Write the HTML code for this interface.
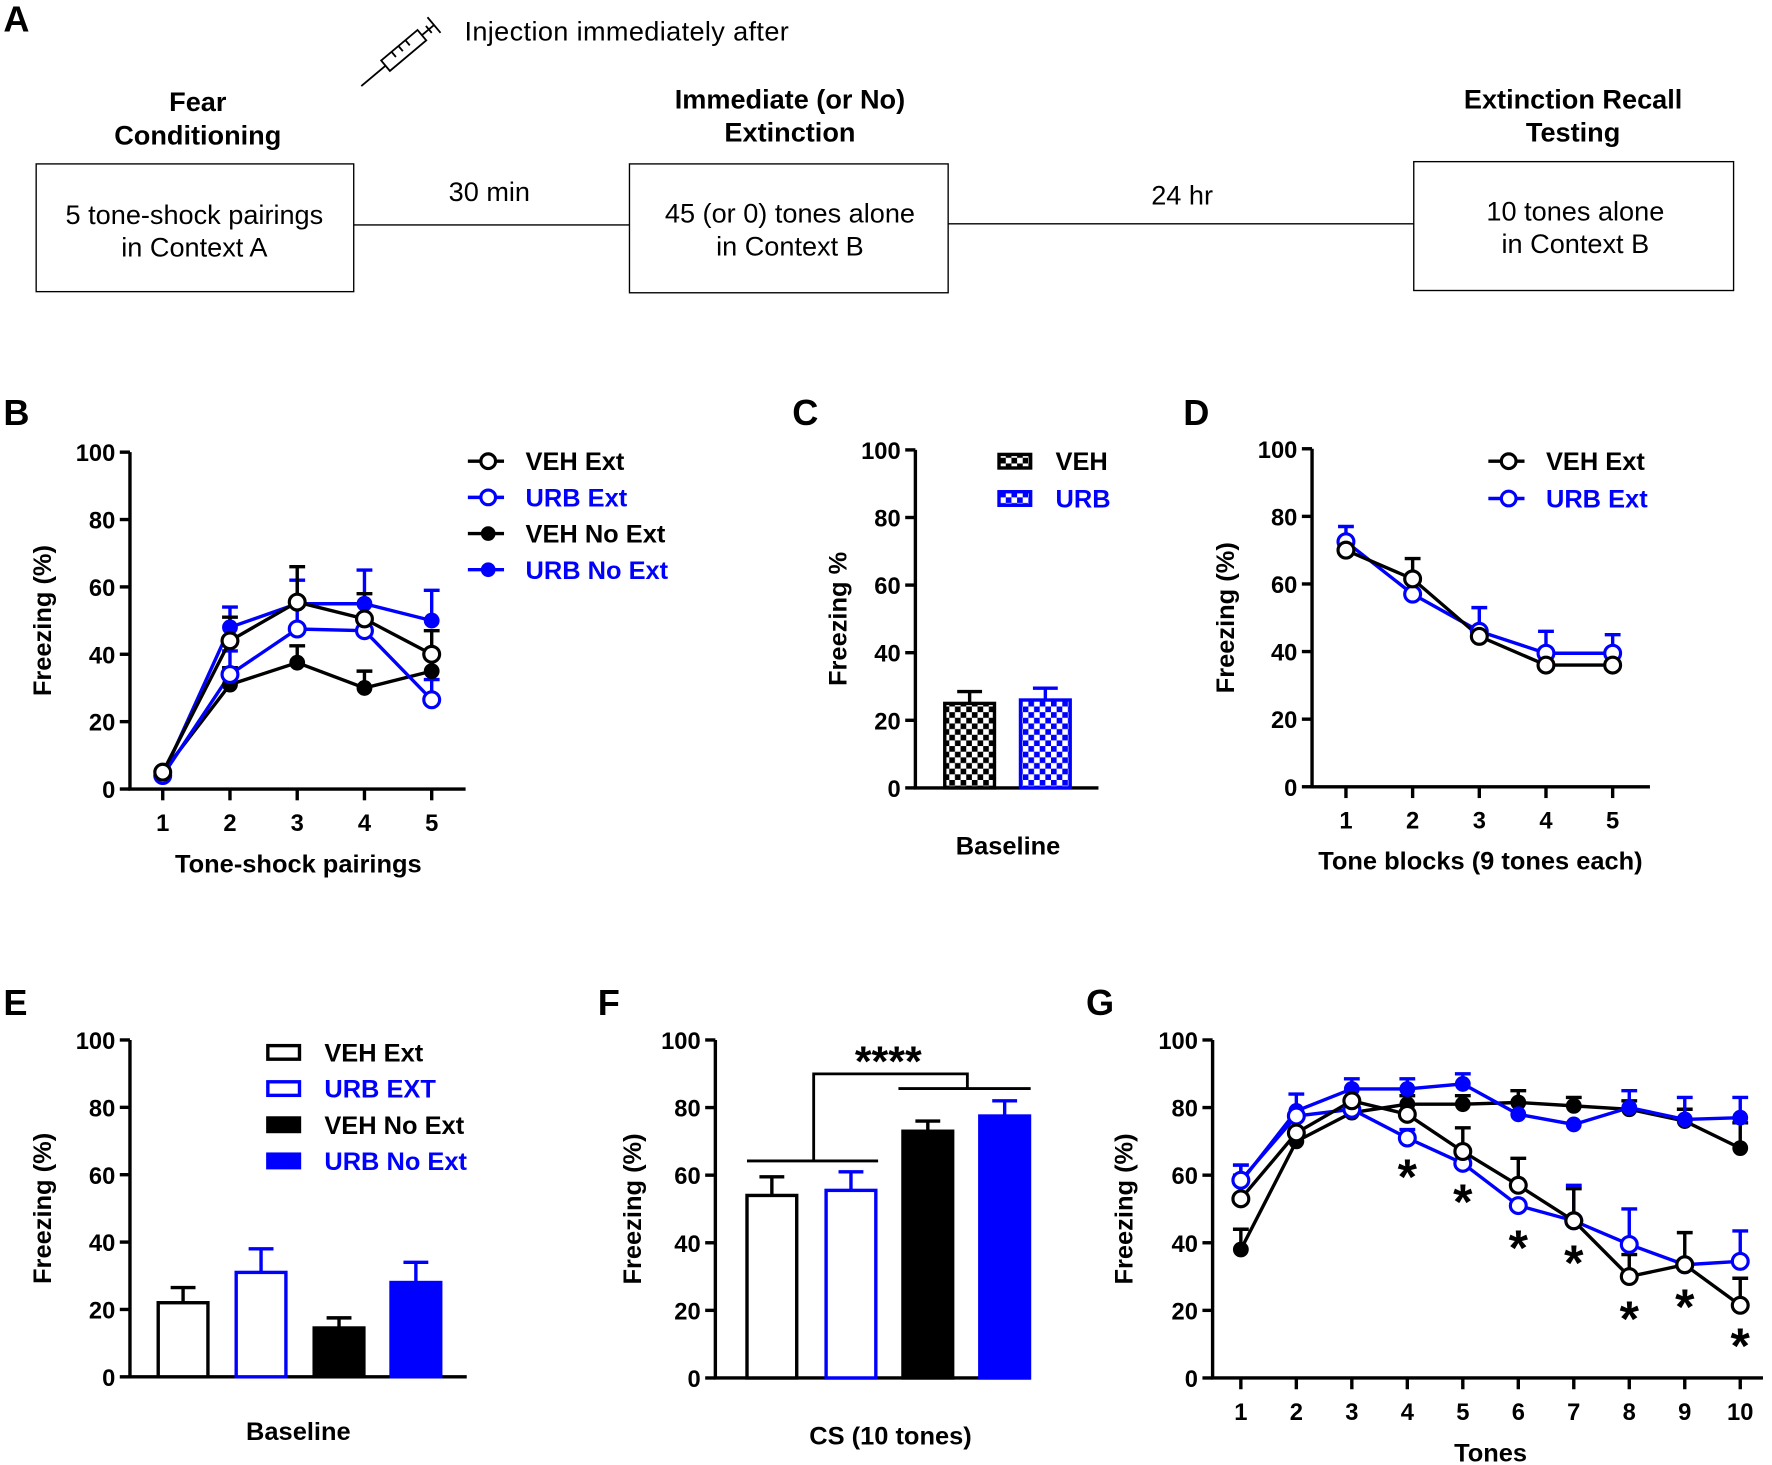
<!DOCTYPE html>
<html><head><meta charset="utf-8">
<style>
html,body{margin:0;padding:0;background:#fff;}
svg{display:block;font-family:"Liberation Sans",Arial,sans-serif;}
.tk{font-size:21px;font-weight:bold;}
.at{font-size:22.5px;font-weight:bold;}
.pl{font-size:32px;font-weight:bold;}
.sch{font-size:24px;}
.schb{font-size:24px;font-weight:bold;}
</style></head>
<body>
<svg id="fig" width="1772" height="1465" viewBox="0 0 1568 1296" preserveAspectRatio="none" xmlns="http://www.w3.org/2000/svg">
<defs>
<pattern id="chkK" width="10" height="10" patternUnits="userSpaceOnUse"><rect width="10" height="10" fill="#fff"/><rect width="5" height="5" fill="#000"/><rect x="5" y="5" width="5" height="5" fill="#000"/></pattern>
<pattern id="chkB" width="10" height="10" patternUnits="userSpaceOnUse"><rect width="10" height="10" fill="#fff"/><rect width="5" height="5" fill="#0000ff"/><rect x="5" y="5" width="5" height="5" fill="#0000ff"/></pattern>
</defs>
<g>
<text x="3" y="28" class="pl">A</text>
<g transform="translate(358,44) rotate(-40)" fill="none" stroke="#000" stroke-width="1.6">
<rect x="-22" y="-6" width="42" height="12"/>
<line x1="-22" y1="0" x2="-50" y2="0"/>
<line x1="20" y1="0" x2="34" y2="0"/><line x1="34" y1="-9" x2="34" y2="9"/>
<line x1="-10" y1="-6" x2="-10" y2="0"/><line x1="-2" y1="-6" x2="-2" y2="0"/><line x1="6" y1="-6" x2="6" y2="0"/>
<line x1="28" y1="-4" x2="28" y2="4"/>
</g>
<text x="411" y="36" class="sch" textLength="287">Injection immediately after</text>
<text x="175" y="98" class="schb" text-anchor="middle">Fear</text>
<text x="175" y="128" class="schb" text-anchor="middle">Conditioning</text>
<rect x="32" y="145" width="281" height="113" fill="none" stroke="#000" stroke-width="1.2"/>
<text x="172" y="198" class="sch" text-anchor="middle">5 tone-shock pairings</text>
<text x="172" y="227" class="sch" text-anchor="middle">in Context A</text>
<line x1="313" y1="199" x2="557" y2="199" stroke="#000" stroke-width="1.2"/>
<text x="433" y="178" class="sch" text-anchor="middle">30 min</text>
<text x="699" y="96" class="schb" text-anchor="middle">Immediate (or No)</text>
<text x="699" y="125" class="schb" text-anchor="middle">Extinction</text>
<rect x="557" y="145" width="282" height="114" fill="none" stroke="#000" stroke-width="1.2"/>
<text x="699" y="197" class="sch" text-anchor="middle">45 (or 0) tones alone</text>
<text x="699" y="226" class="sch" text-anchor="middle">in Context B</text>
<line x1="839" y1="198" x2="1251" y2="198" stroke="#000" stroke-width="1.2"/>
<text x="1046" y="181" class="sch" text-anchor="middle">24 hr</text>
<text x="1392" y="96" class="schb" text-anchor="middle">Extinction Recall</text>
<text x="1392" y="125" class="schb" text-anchor="middle">Testing</text>
<rect x="1251" y="143" width="283" height="114" fill="none" stroke="#000" stroke-width="1.2"/>
<text x="1394" y="195" class="sch" text-anchor="middle">10 tones alone</text>
<text x="1394" y="224" class="sch" text-anchor="middle">in Context B</text>
</g>
</svg>
<script>
// ---------- data ----------
const yTicks = [0, 20, 40, 60, 80, 100];
// Panel B
const bCats = ["1","2","3","4","5"];
const bVehExt = [5, 44, 55.5, 50.5, 40];
const bVehExtErr = [5, 51, 66, 58, 47];
const bUrbExt = [4, 34, 47.5, 47, 26.5];
const bUrbExtErr = [4, 41, 62, 47, 32.5];
const bVehNo = [5, 31, 37.5, 30, 35];
const bVehNoErr = [5, 36, 42.5, 35, 35];
const bUrbNo = [4, 48, 55, 55, 50];
const bUrbNoErr = [4, 54, 55, 65, 59];
// Panel C
const cCats = ["VEH", "URB"];
const cVals = [25, 26];
const cErr = [28.5, 29.5];
// Panel D
const dCats = ["1","2","3","4","5"];
const dVehExt = [70, 61.5, 44.5, 36, 36];
const dVehExtErr = [70, 67.5, 47, 36, 36];
const dUrbExt = [72.5, 57, 46, 39.5, 39.5];
const dUrbExtErr = [77, 57, 53, 46, 45];
// Panel E
const eCats = ["VEH Ext", "URB EXT", "VEH No Ext", "URB No Ext"];
const eVals = [22, 31, 14.5, 28];
const eErr = [26.5, 38, 17.5, 34];
// Panel F
const fCats = ["VEH Ext", "URB EXT", "VEH No Ext", "URB No Ext"];
const fVals = [54, 55.5, 73, 77.5];
const fErr = [59.5, 61, 76, 82];
// Panel G
const gCats = ["1","2","3","4","5","6","7","8","9","10"];
const gVehExt = [53, 72.5, 82, 78, 67, 57, 46.5, 30, 33.5, 21.5];
const gVehExtErr = [60, 72.5, 82, 78, 74, 65, 56, 36.5, 43, 29.5];
const gUrbExt = [58.5, 77.5, 79.5, 71, 63.5, 51, 46.5, 39.5, 33.5, 34.5];
const gUrbExtErr = [63, 77.5, 79.5, 73.5, 63.5, 51, 57, 50, 33.5, 43.5];
const gVehNo = [38, 70, 78.5, 81, 81, 81.5, 80.5, 79.5, 76, 68];
const gVehNoErr = [44, 70, 78.5, 83.5, 83.5, 85, 83, 82, 79.5, 75.5];
const gUrbNo = [58, 79, 85.5, 85.5, 87, 78, 75, 80, 76.5, 77];
const gUrbNoErr = [63, 84, 88.5, 88.5, 90, 78, 75, 85, 83, 83];
const gStarTones = [4, 5, 6, 7, 8, 9, 10];
const gStarY = [62.5, 55, 41.5, 37, 20.5, 24, 12.5];

// ---------- helpers ----------
const NS = "http://www.w3.org/2000/svg";
const svg = document.getElementById("fig");
function el(tag, attrs, parent) {
  const e = document.createElementNS(NS, tag);
  for (const k in attrs) e.setAttribute(k, attrs[k]);
  (parent || svg).appendChild(e);
  return e;
}
function txt(s, attrs, parent) { const t = el("text", attrs, parent); t.textContent = s; return t; }
const BLUE = "#0000ff", BLACK = "#000";

function axes(g, ax) {
  const ys = v => ax.yb - v * (ax.yb - ax.yt) / 100;
  const yl = el("line", {x1: ax.x, y1: ax.yt, x2: ax.x, y2: ax.yb, stroke: BLACK, "stroke-width": 3}, g);
  
  
  const xl = el("line", {x1: ax.x - 1.5, y1: ax.yb, x2: ax.xe, y2: ax.yb, stroke: BLACK, "stroke-width": 3}, g);
  
  
  yTicks.forEach(v => {
    const tl = el("line", {x1: ax.x - 9, y1: ys(v), x2: ax.x, y2: ys(v), stroke: BLACK, "stroke-width": 3}, g);
    
    
    const tt = txt(String(v), {x: ax.x - 13, y: ys(v) + 8, "text-anchor": "end", class: "tk"}, g);
    
    
  });
  const yt = txt(ax.ylabel, {x: 0, y: 0, "text-anchor": "middle", class: "at", transform: `translate(${ax.ylx},${(ax.yt + ax.yb) / 2}) rotate(-90)`}, g);
  
  
  const xt = txt(ax.xlabel, {x: ax.xlx, y: ax.xly, "text-anchor": "middle", class: "at"}, g);
  
  
  const pl = txt(ax.letter, {x: ax.lx, y: ax.ly, class: "pl"}, g);
  
  
  return ys;
}

function lineChart(g, ax, cats, x0, step, series) {
  const ys = axes(g, ax);
  const xs = i => x0 + i * step;
  cats.forEach((c, i) => {
    const tl = el("line", {x1: xs(i), y1: ax.yb, x2: xs(i), y2: ax.yb + 10, stroke: BLACK, "stroke-width": 3}, g);
    
    
    const tt = txt(c, {x: xs(i), y: ax.yb + 37, "text-anchor": "middle", class: "tk"}, g);
    
    
  });
  series.forEach(s => {
    s.vals.forEach((v, i) => {
      if (s.err[i] > v + 0.5) {
        const e1 = el("path", {d: `M${xs(i)},${ys(v)}V${ys(s.err[i])}M${xs(i) - 7},${ys(s.err[i])}H${xs(i) + 7}`, stroke: s.color, "stroke-width": 3, fill: "none"}, g);
        
        
      }
    });
  });
  series.forEach(s => {
    const pl = el("polyline", {points: s.vals.map((v, i) => xs(i) + "," + ys(v)).join(" "), fill: "none", stroke: s.color, "stroke-width": 3}, g);
    
    
  });
  series.forEach(s => {
    s.vals.forEach((v, i) => {
      const m = el("circle", {cx: xs(i), cy: ys(v), r: s.open ? 7 : 6.5, fill: s.open ? "#fff" : s.color, stroke: s.color, "stroke-width": s.open ? 2.8 : 1}, g);
      
      
    });
  });
  return {xs, ys};
}

function legendLine(g, x, y, s) {
  const l = el("line", {x1: x - 18, y1: y, x2: x + 14, y2: y, stroke: s.color, "stroke-width": 3}, g);
  
  
  const c = el("circle", {cx: x, cy: y, r: s.open ? 6.5 : 6, fill: s.open ? "#fff" : s.color, stroke: s.color, "stroke-width": s.open ? 2.8 : 1}, g);
  
  
  const t = txt(s.label, {x: x + 33, y: y + 8, class: "at", fill: s.color}, g);
  
  
}

function barChart(g, ax, vals, errs, lefts, w, fills, strokes) {
  const ys = axes(g, ax);
  vals.forEach((v, i) => {
    const e1 = el("path", {d: `M${lefts[i] + w / 2},${ys(v)}V${ys(errs[i])}M${lefts[i] + w / 2 - 11},${ys(errs[i])}H${lefts[i] + w / 2 + 11}`, stroke: strokes[i], "stroke-width": 3, fill: "none"}, g);
    
    
    const r = el("rect", {x: lefts[i], y: ys(v), width: w, height: ys(0) - ys(v), fill: fills[i], stroke: strokes[i], "stroke-width": 3}, g);
    
    
  });
  return ys;
}

function swatch(g, x, y, fill, stroke, label, color) {
  const r = el("rect", {x: x, y: y - 6, width: 28, height: 12, fill: fill, stroke: stroke, "stroke-width": 3}, g);
  
  
  const t = txt(label, {x: x + 50, y: y + 8, class: "at", fill: color}, g);
  
  
}

// ---------- Panel B ----------
const gB = el("g", {});


const sB = [
  {name: "veh-ext", label: "VEH Ext", vals: bVehExt, err: bVehExtErr, color: BLACK, open: true},
  {name: "urb-ext", label: "URB Ext", vals: bUrbExt, err: bUrbExtErr, color: BLUE, open: true},
  {name: "veh-no-ext", label: "VEH No Ext", vals: bVehNo, err: bVehNoErr, color: BLACK, open: false},
  {name: "urb-no-ext", label: "URB No Ext", vals: bUrbNo, err: bUrbNoErr, color: BLUE, open: false}
];
lineChart(gB, {x: 115, xe: 412, yt: 400, yb: 698, ylabel: "Freezing (%)", ylx: 45, xlabel: "Tone-shock pairings", xlx: 264, xly: 772, letter: "B", lx: 3, ly: 376},
  bCats, 144, 59.5, [sB[2], sB[3], sB[1], sB[0]]);
sB.forEach((s, i) => legendLine(gB, 432, 408 + i * 32, s));

// ---------- Panel C ----------
const gC = el("g", {});


barChart(gC, {x: 810, xe: 972, yt: 398, yb: 697, ylabel: "Freezing %", ylx: 749, xlabel: "Baseline", xlx: 892, xly: 756, letter: "C", lx: 701, ly: 376},
  cVals, cErr, [836, 903], 44, ["url(#chkK)", "url(#chkB)"], [BLACK, BLUE]);
swatch(gC, 884, 408, "url(#chkK)", BLACK, cCats[0], BLACK);
swatch(gC, 884, 441, "url(#chkB)", BLUE, cCats[1], BLUE);

// ---------- Panel D ----------
const gD = el("g", {});


const sD = [
  {name: "veh-ext", label: "VEH Ext", vals: dVehExt, err: dVehExtErr, color: BLACK, open: true},
  {name: "urb-ext", label: "URB Ext", vals: dUrbExt, err: dUrbExtErr, color: BLUE, open: true}
];
lineChart(gD, {x: 1161, xe: 1460, yt: 397, yb: 696, ylabel: "Freezing (%)", ylx: 1092, xlabel: "Tone blocks (9 tones each)", xlx: 1310, xly: 769, letter: "D", lx: 1047, ly: 376},
  dCats, 1191, 59, [sD[1], sD[0]]);
sD.forEach((s, i) => legendLine(gD, 1335, 408 + i * 33, s));

// ---------- Panel E ----------
const gE = el("g", {});


barChart(gE, {x: 115, xe: 413, yt: 920, yb: 1218, ylabel: "Freezing (%)", ylx: 45, xlabel: "Baseline", xlx: 264, xly: 1274, letter: "E", lx: 3, ly: 898},
  eVals, eErr, [140, 209, 278, 346], 44, ["#fff", "#fff", BLACK, BLUE], [BLACK, BLUE, BLACK, BLUE]);
swatch(gE, 237, 931, "#fff", BLACK, eCats[0], BLACK);
swatch(gE, 237, 963, "#fff", BLUE, eCats[1], BLUE);
swatch(gE, 237, 995, BLACK, BLACK, eCats[2], BLACK);
swatch(gE, 237, 1027, BLUE, BLUE, eCats[3], BLUE);

// ---------- Panel F ----------
const gF = el("g", {});


barChart(gF, {x: 633, xe: 912, yt: 920, yb: 1219, ylabel: "Freezing (%)", ylx: 567, xlabel: "CS (10 tones)", xlx: 788, xly: 1278, letter: "F", lx: 529, ly: 898},
  fVals, fErr, [661, 731, 799, 867], 44, ["#fff", "#fff", BLACK, BLUE], [BLACK, BLUE, BLACK, BLUE]);
const sig = el("path", {d: "M661,1027H777M720,1027V950H856V963M795,963H912", fill: "none", stroke: BLACK, "stroke-width": 2.5}, gF);


const sigT = txt("****", {x: 786, y: 952, "text-anchor": "middle", style: "font-size:38px;font-weight:bold"}, gF);



// ---------- Panel G ----------
const gG = el("g", {});


const sG = [
  {name: "veh-no-ext", vals: gVehNo, err: gVehNoErr, color: BLACK, open: false},
  {name: "urb-no-ext", vals: gUrbNo, err: gUrbNoErr, color: BLUE, open: false},
  {name: "urb-ext", vals: gUrbExt, err: gUrbExtErr, color: BLUE, open: true},
  {name: "veh-ext", vals: gVehExt, err: gVehExtErr, color: BLACK, open: true}
];
const scG = lineChart(gG, {x: 1073, xe: 1560, yt: 920, yb: 1219, ylabel: "Freezing (%)", ylx: 1002, xlabel: "Tones", xlx: 1319, xly: 1293, letter: "G", lx: 961, ly: 898},
  gCats, 1098, 49.1, sG);
gStarTones.forEach((t, i) => {
  const st = txt("*", {x: scG.xs(t - 1), y: scG.ys(gStarY[i]) + 24, "text-anchor": "middle", style: "font-size:44px;font-weight:bold"}, gG);
  
  
});
</script>
</body></html>
